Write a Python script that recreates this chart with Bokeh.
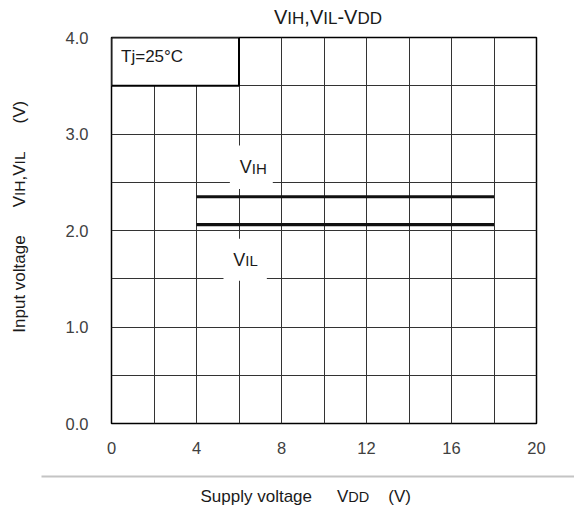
import math

from bokeh.embed import file_html
from bokeh.layouts import column, row
from bokeh.models import FixedTicker, Label, NumeralTickFormatter
from bokeh.plotting import figure
from bokeh.resources import INLINE

# ---- data -------------------------------------------------------------
vdd = [4, 18]            # supply voltage range of the curves (V)
vih = [2.35, 2.35]       # high-level input threshold (V)
vil = [2.06, 2.06]       # low-level input threshold (V)

x_ticks = [0, 4, 8, 12, 16, 20]
y_ticks = [0.0, 1.0, 2.0, 3.0, 4.0]
x_grid = [0, 2, 4, 6, 8, 10, 12, 14, 16, 18, 20]
y_grid = [0.0, 0.5, 1.0, 1.5, 2.0, 2.5, 3.0, 3.5, 4.0]

FONT = "Liberation Sans"
INK = "#1a1a1a"

# Arial / Liberation Sans advance widths (1/1000 em), used to flow mixed-size text
ADV = {' ': 278, '(': 333, ')': 333, ',': 278, '-': 333, '=': 584, '.': 278,
       '°': 400, 'A': 667, 'C': 722, 'D': 722, 'H': 722, 'I': 278, 'L': 556,
       'S': 667, 'T': 611, 'V': 667, 'a': 556, 'e': 556, 'g': 556, 'j': 222,
       'l': 222, 'n': 556, 'o': 556, 'p': 556, 't': 278, 'u': 556, 'v': 500,
       'y': 500}
LIFT = 0.35   # distance from baseline up to the centre of the text box, in em


def text_width(s, size):
    return sum(ADV.get(c, 556) for c in s) * size / 1000.0


def rich(fig, x, y, parts, angle=0.0, align="left", color=INK):
    """Place a run of (text, size, gap_after) pieces on a common baseline at (x, y).

    Each piece is anchored at its own centre so rotation does not move it.
    """
    total = sum(text_width(t, s) + g for t, s, g in parts) - parts[-1][2]
    pos = -total / 2 if align == "center" else 0.0
    for t, s, g in parts:
        w = text_width(t, s)
        along = pos + w / 2
        lift = LIFT * s
        if angle == 0.0:
            xo, yo = along, lift
        else:
            xo, yo = -lift, along
        fig.add_layout(Label(x=x, y=y, x_offset=xo, y_offset=yo, text=t,
                             angle=angle, text_font=FONT,
                             text_font_size=f"{s}px", text_color=color,
                             text_align="center", text_baseline="middle"))
        pos += w + g


def canvas(w, h):
    """Bare drawing area whose data units are pixels (y measured upward)."""
    f = figure(width=w, height=h, x_range=(0, w), y_range=(0, h),
               output_backend="svg", toolbar_location=None, title=None,
               min_border=0, x_axis_location=None, y_axis_location=None)
    f.grid.visible = False
    f.outline_line_color = None
    f.background_fill_color = "white"
    f.border_fill_color = "white"
    return f


W = 574
TOP_H, MID_H, BOT_H = 28, 442, 45
LEFT_W = 40

# ---- main chart -------------------------------------------------------
p = figure(width=W - LEFT_W, height=MID_H, x_range=(0, 20), y_range=(0, 4),
           output_backend="svg", toolbar_location=None, title=None,
           min_border_left=111 - LEFT_W, min_border_right=38,
           min_border_top=37 - TOP_H, min_border_bottom=TOP_H + MID_H - 423)
p.background_fill_color = "white"
p.border_fill_color = "white"

# grid: every 2 V horizontally, every 0.5 V vertically
p.xgrid.ticker = FixedTicker(ticks=x_grid)
p.ygrid.ticker = FixedTicker(ticks=y_grid)
p.grid.grid_line_color = "#333333"
p.grid.grid_line_width = 1

p.xaxis.ticker = FixedTicker(ticks=x_ticks, minor_ticks=[])
p.yaxis.ticker = FixedTicker(ticks=y_ticks, minor_ticks=[])
p.yaxis.formatter = NumeralTickFormatter(format="0.0")
for ax in (p.xaxis, p.yaxis):
    ax.axis_line_color = None
    ax.major_tick_line_color = None
    ax.minor_tick_line_color = None
    ax.major_tick_in = 0
    ax.major_tick_out = 0
    ax.major_label_text_font = FONT
    ax.major_label_text_font_size = "16.5px"
    ax.major_label_text_color = "#404040"
p.xaxis.major_label_standoff = 18
p.yaxis.major_label_standoff = 23

p.outline_line_color = "black"
p.outline_line_width = 1.5

# white patches behind the in-plot labels, hiding the grid there
p.quad(left=[5.57, 5.27], right=[7.59, 7.31], bottom=[2.43, 1.48], top=[2.88, 1.915],
       fill_color="white", line_color=None)
# condition box in the top-left corner
p.quad(left=[0], right=[6], bottom=[3.5], top=[4.0],
       fill_color="white", line_color="black", line_width=2)

# threshold curves
p.line(vdd, vih, line_width=3.2, line_color="#111111")
p.line(vdd, vil, line_width=3.2, line_color="#111111")

# curve labels (baseline positions)
rich(p, 6.67, 2.59, [("V", 18, 0), ("IH", 15, 0)], align="center")
rich(p, 6.31, 1.63, [("V", 18, 0), ("IL", 15, 0)], align="center")

# condition text
rich(p, 0.45, 3.745, [("Tj=25°C", 17, 0)])

# ---- title strip --------------------------------------------------------
top = canvas(W, TOP_H)
rich(top, 327.5, TOP_H - 23.5,
     [("V", 20, 0), ("IH", 17, 0), (",", 20, 0), ("V", 20, 0),
      ("IL", 17, 0), ("-", 20, 0), ("V", 20, 0), ("DD", 17, 0)],
     align="center")

# ---- y-axis title strip (rotated text) ----------------------------------
# rotated labels in this strip are positioned from the page top
left = canvas(LEFT_W, MID_H)
rich(left, 24.5, MID_H - 338,
     [("Input voltage", 17, 28), ("V", 17, 0), ("IH", 15.5, 0), (",", 17, 0),
      ("V", 17, 0), ("IL", 15.5, 28), ("(V)", 17, 0)],
     angle=math.pi / 2)

# ---- x-axis title strip with separator rule -----------------------------
bot = canvas(W, BOT_H)
bot_bottom = TOP_H + MID_H + BOT_H
bot.quad(left=[41], right=[W], top=[bot_bottom - 475], bottom=[bot_bottom - 477],
         fill_color="#c4c4c4", line_color=None)
rich(bot, 200, bot_bottom - 502,
     [("Supply voltage", 17, 25), ("V", 17, 0), ("DD", 14.5, 19), ("(V)", 17, 0)])

layout = column(top, row(left, p), bot)
open("out.html", "w").write(file_html(layout, INLINE))
